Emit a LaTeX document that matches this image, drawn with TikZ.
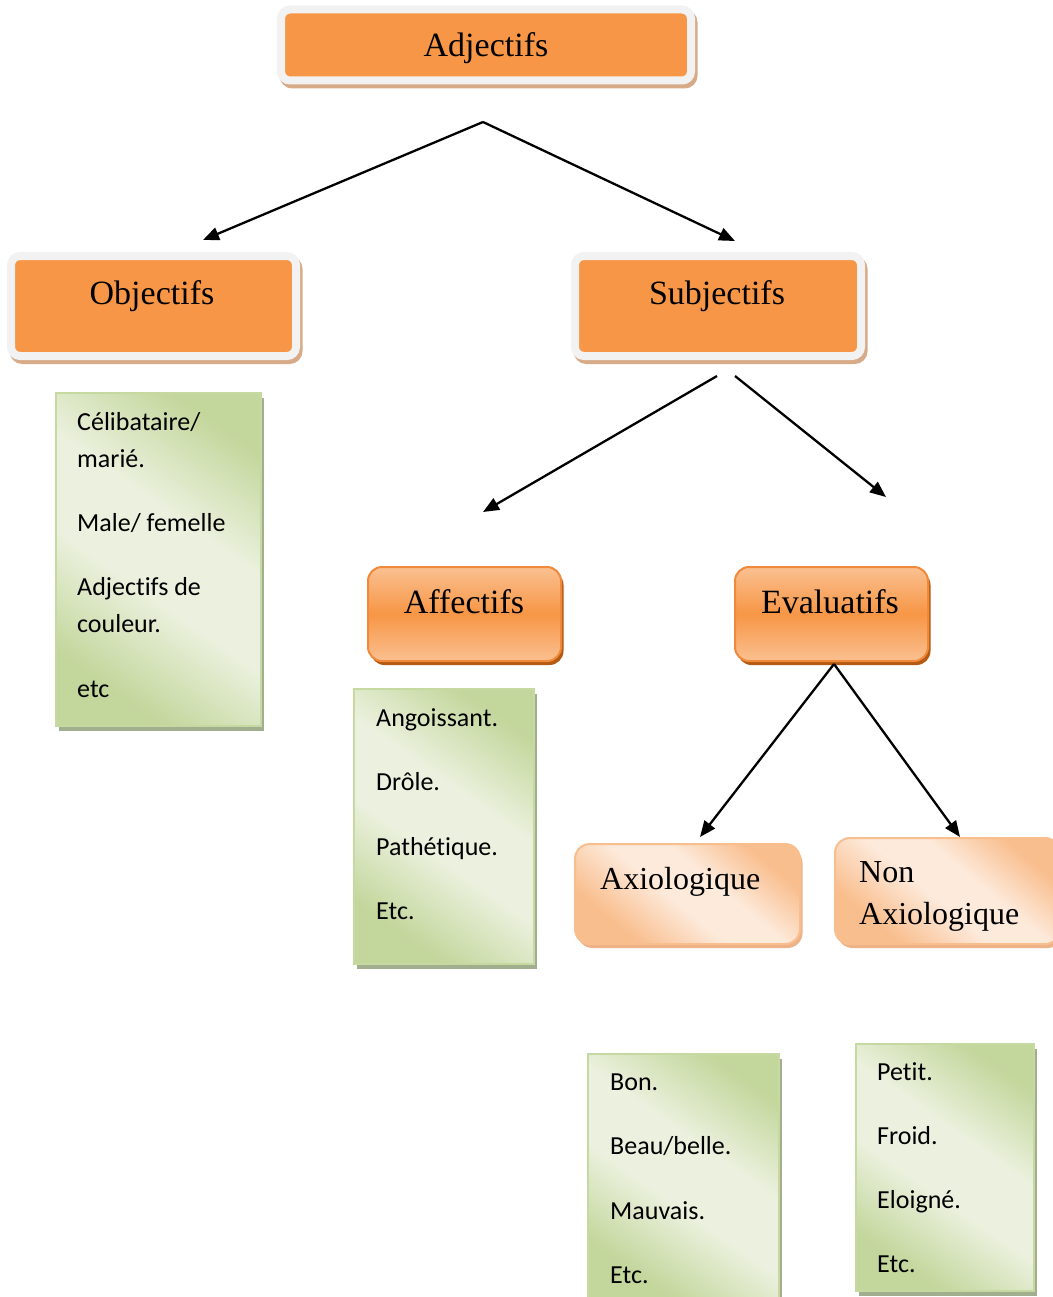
\documentclass[tikz,border=0pt]{standalone}
\usepackage{fontspec}
\setmainfont{Liberation Serif}
\newfontfamily\listfont[Ligatures={NoCommon,NoRequired,NoContextual}]{Carlito}
\usetikzlibrary{arrows.meta,shadows}

% palette
\definecolor{orangefill}{HTML}{F79646}
\definecolor{orangelight}{HTML}{FAC090}
\definecolor{orangeedge}{HTML}{F08A3A}
\definecolor{brownshadow}{HTML}{B45A12}
\definecolor{framegray}{HTML}{F2F2F2}
\definecolor{tanshadow}{HTML}{D7AA88}
\definecolor{peachdark}{HTML}{F9BE8E}
\definecolor{peachlight}{HTML}{FDEADB}
\definecolor{peachshadow}{HTML}{EDB386}
\definecolor{greendark}{HTML}{C3D69B}
\definecolor{greenlight}{HTML}{EBF1DE}
\definecolor{greenedge}{HTML}{C6D9A0}
\definecolor{greenshadow}{HTML}{A2AF8E}

% colour bands used to fill the boxes
\pgfdeclareverticalshading{orangeband}{100bp}{color(0bp)=(orangelight); color(25bp)=(orangelight); color(50bp)=(orangefill); color(75bp)=(orangelight); color(100bp)=(orangelight)}
\pgfdeclareverticalshading{peachband}{100bp}{color(0bp)=(peachdark); color(28bp)=(peachdark); color(46bp)=(peachlight); color(58bp)=(peachlight); color(74bp)=(peachdark); color(100bp)=(peachdark)}
\pgfdeclareverticalshading{greenband}{100bp}{color(0bp)=(greendark); color(26bp)=(greendark); color(44bp)=(greenlight); color(58bp)=(greenlight); color(76bp)=(greendark); color(100bp)=(greendark)}

% keeps "t" and "i" as separate glyphs
\newcommand{\tsep}{\kern0pt }

\begin{document}
\begin{tikzpicture}[x=1pt,y=-1pt,
  topbox/.style={rectangle, rounded corners=9pt, draw=framegray, line width=8pt,
    fill=orangefill, inner sep=0pt,
    general shadow={draw=tanshadow, fill=tanshadow, line width=8pt,
      shadow xshift=2.5pt, shadow yshift=-4pt}},
  midbox/.style={rectangle, rounded corners=14pt, draw=orangeedge, line width=2pt,
    shade, shading=orangeband, inner sep=0pt,
    general shadow={fill=brownshadow, shadow xshift=2.5pt, shadow yshift=-4pt}},
  lowbox/.style={rectangle, rounded corners=15pt, draw=peachdark, line width=2pt,
    shade, shading=peachband, shading angle=-40, inner sep=0pt,
    general shadow={fill=peachshadow, shadow xshift=2.5pt, shadow yshift=-4pt}},
  listbox/.style={rectangle, draw=greenedge, line width=2.5pt,
    shade, shading=greenband, shading angle=-35, inner sep=0pt,
    general shadow={fill=greenshadow, shadow xshift=3pt, shadow yshift=-5pt}},
  titletext/.style={inner sep=0pt, font=\fontsize{34}{40}\selectfont},
  subtext/.style={inner sep=0pt, anchor=base west, font=\fontsize{32}{38}\selectfont},
  itemtext/.style={inner sep=0pt, anchor=base west, font=\listfont\fontsize{26}{30}\selectfont},
  conn/.style={draw=black, line width=2.3pt, -{Triangle[length=16pt,width=13pt]}}]

\useasboundingbox (0,0) rectangle (1052,1297);

% category boxes
\node[topbox, minimum width=410pt, minimum height=71pt] (adj) at (486,45) {};
\node[topbox, minimum width=285pt, minimum height=100pt] (obj) at (153.5,306) {};
\node[topbox, minimum width=286pt, minimum height=100pt] (subj) at (718,306) {};
\node[midbox, minimum width=193pt, minimum height=94pt] (aff) at (464.5,614) {};
\node[midbox, minimum width=193pt, minimum height=94pt] (eval) at (831.5,614) {};
\node[lowbox, minimum width=225pt, minimum height=100pt] (axio) at (687.5,894) {};
\node[lowbox, minimum width=225pt, minimum height=106pt] (nonaxio) at (947.5,891) {};

\node[titletext, anchor=base] (adjT) at (486,57) {Adjectifs};
\node[titletext, anchor=base] (objT) at (152,304) {Objectifs};
\node[titletext, anchor=base] (subjT) at (717,304) {Subjectifs};
\node[titletext, anchor=base] (affT) at (464,613) {Affectifs};
\node[titletext, anchor=base] (evalT) at (830,613) {Evaluatifs};
\node[subtext] (axioT) at (600,889) {Axiologique};
\node[subtext] (nonT) at (859,882) {Non};
\node[subtext] (nonaxioT) at (859,924) {Axiologique};

% example lists
\node[listbox, minimum width=205pt, minimum height=333pt] (objlist) at (158.5,559.5) {};
\node[itemtext] (o1) at (77,430) {Célibataire/};
\node[itemtext] (o2) at (77,467) {marié.};
\node[itemtext] (o3) at (77,531) {Male/ femelle};
\node[itemtext] (o4) at (77,595) {Adjec\tsep t\tsep ifs de};
\node[itemtext] (o5) at (77,632) {couleur.};
\node[itemtext] (o6) at (77,697) {etc};

\node[listbox, minimum width=180pt, minimum height=275pt] (afflist) at (444,826.5) {};
\node[itemtext] (a1) at (376,726) {Angoissant.};
\node[itemtext] (a2) at (376,790) {Drôle.};
\node[itemtext] (a3) at (376,855) {Pathét\tsep ique.};
\node[itemtext] (a4) at (376,919) {Etc.};

\node[listbox, minimum width=191pt, minimum height=246pt] (axiolist) at (683.5,1177) {};
\node[itemtext] (x1) at (610,1090) {Bon.};
\node[itemtext] (x2) at (610,1154) {Beau/belle.};
\node[itemtext] (x3) at (610,1219) {Mauvais.};
\node[itemtext] (x4) at (610,1283) {Etc.};

\node[listbox, minimum width=178pt, minimum height=247pt] (nonlist) at (945,1167.5) {};
\node[itemtext] (n1) at (877,1080) {Pet\tsep it.};
\node[itemtext] (n2) at (877,1144) {Froid.};
\node[itemtext] (n3) at (877,1208) {Eloigné.};
\node[itemtext] (n4) at (877,1272) {Etc.};

% connector ends
\coordinate (adjfork) at (483,122);
\coordinate (objtip) at (203,240);
\coordinate (subjtip) at (735,241);
\coordinate (subjforkL) at (717,376);
\coordinate (subjforkR) at (735,376);
\coordinate (afftip) at (483,512);
\coordinate (evaltip) at (886,497);
\coordinate (evalfork) at (834,664);
\coordinate (axiotip) at (700,837);
\coordinate (nonaxiotip) at (960,837);

\draw[conn] (adjfork) -- (objtip);
\draw[conn] (adjfork) -- (subjtip);
\draw[conn] (subjforkL) -- (afftip);
\draw[conn] (subjforkR) -- (evaltip);
\draw[conn] (evalfork) -- (axiotip);
\draw[conn] (evalfork) -- (nonaxiotip);
\end{tikzpicture}
\end{document}
